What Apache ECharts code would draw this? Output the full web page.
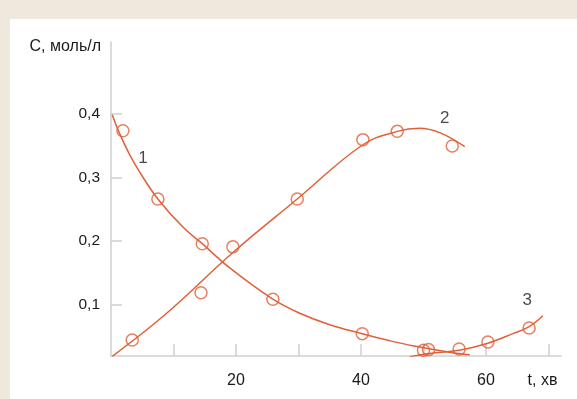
<!DOCTYPE html>
<html>
<head>
<meta charset="utf-8">
<script src="https://cdn.jsdelivr.net/npm/echarts@6/dist/echarts.min.js"></script>
<style>
  html, body { margin: 0; padding: 0; width: 577px; height: 399px; background: #efe8dc; overflow: hidden; }
  #chart { position: absolute; left: 10px; top: 19px; width: 567px; height: 380px; background: #ffffff; }
</style>
</head>
<body>
<div id="chart"></div>
<script>
// Axis texts
const yTitle = 'С, моль/л';
const xTitle = 't, хв';
const xTickValues = [10, 20, 30, 40, 50, 60, 70];
const xLabelValues = [20, 40, 60, 70];
const yTickValues = [0.1, 0.2, 0.3, 0.4];

// Experimental points (t, C)
const points1 = [[1.9, 0.373], [7.5, 0.266], [14.6, 0.196], [25.9, 0.109], [40.2, 0.055]];
const points2 = [[3.4, 0.045], [14.4, 0.119], [19.5, 0.191], [29.8, 0.266], [40.3, 0.359], [45.8, 0.372], [54.6, 0.349]];
const points3 = [[50.0, 0.029], [50.8, 0.030], [55.7, 0.031], [60.3, 0.042], [66.9, 0.064]];

// Fitted curves
const curve1 = [[0.2, 0.398], [1.4, 0.368], [3.0, 0.335], [4.6, 0.308], [7.5, 0.266], [11.5, 0.222], [14.6, 0.196], [19.0, 0.158], [25.9, 0.109], [30.2, 0.087], [35.0, 0.069], [40.2, 0.055], [44.6, 0.044], [48.3, 0.036], [54.2, 0.026], [57.4, 0.022]];
const curve2 = [[0.2, 0.0195], [8.9, 0.087], [19.6, 0.183], [29.8, 0.266], [40.3, 0.351], [45.8, 0.372], [49.4, 0.377], [52.6, 0.370], [56.6, 0.348]];
const curve3 = [[47.8, 0.019], [51.0, 0.024], [55.7, 0.029], [60.3, 0.040], [64.3, 0.055], [66.9, 0.066], [69.1, 0.083]];

// Curve labels
const curveLabels = [['1', 5.1, 0.330], ['2', 53.4, 0.392], ['3', 66.6, 0.108]];

const RED = '#e0603a';
const GREY = '#cfcfcf';
const TEXT = '#1a1a1a';
const FONT = 'Liberation Sans, Arial, sans-serif';

const chart = echarts.init(document.getElementById('chart'), null, { renderer: 'canvas' });

function lineSeries(data) {
  return {
    type: 'line', data: data, smooth: 0.4, symbol: 'none', z: 2,
    lineStyle: { color: RED, width: 1.5 }, animation: false
  };
}
function pointSeries(data) {
  return {
    type: 'scatter', data: data, symbol: 'circle', symbolSize: 12, z: 3,
    itemStyle: { color: 'rgba(0,0,0,0)', borderColor: RED, borderWidth: 1.5 },
    animation: false
  };
}

chart.setOption({
  animation: false,
  grid: { left: 101, right: 16, top: 23, bottom: 43, containLabel: false },
  xAxis: {
    type: 'value', min: 0, max: 72,
    axisLine: { show: true, lineStyle: { color: GREY, width: 1.5 } },
    axisTick: { show: true, inside: true, length: 12, customValues: xTickValues, lineStyle: { color: GREY, width: 1.5 } },
    axisLabel: {
      show: true, customValues: xLabelValues, margin: 17,
      color: TEXT, fontSize: 16, fontFamily: FONT,
      formatter: function (v) { return v === 70 ? '{t|' + xTitle + '}' : String(v); },
      rich: { t: { color: TEXT, fontSize: 16, fontFamily: FONT, padding: [0, 12, 0, 0] } }
    },
    splitLine: { show: false }
  },
  yAxis: {
    type: 'value', min: 0.02, max: 0.512,
    axisLine: { show: true, lineStyle: { color: GREY, width: 1.5 } },
    axisTick: { show: true, inside: true, length: 11, customValues: yTickValues, lineStyle: { color: GREY, width: 1.5 } },
    axisLabel: {
      show: true, customValues: yTickValues, margin: 11,
      color: TEXT, fontSize: 15.5, fontFamily: FONT,
      formatter: function (v) { return v.toFixed(1).replace('.', ','); }
    },
    splitLine: { show: false },
    name: yTitle, nameLocation: 'end', nameGap: -5,
    nameTextStyle: { color: TEXT, fontSize: 16, fontFamily: FONT, align: 'right', verticalAlign: 'middle', padding: [0, 10, 0, 0] }
  },
  series: [
    lineSeries(curve1), lineSeries(curve2), lineSeries(curve3),
    pointSeries(points1), pointSeries(points2), pointSeries(points3),
    {
      type: 'scatter', symbolSize: 0, z: 4,
      data: curveLabels.map(function (d) { return { value: [d[1], d[2]], name: d[0] }; }),
      label: { show: true, position: 'inside', formatter: '{b}', color: TEXT, fontSize: 17, fontFamily: FONT },
      silent: true
    }
  ]
});
</script>
</body>
</html>
